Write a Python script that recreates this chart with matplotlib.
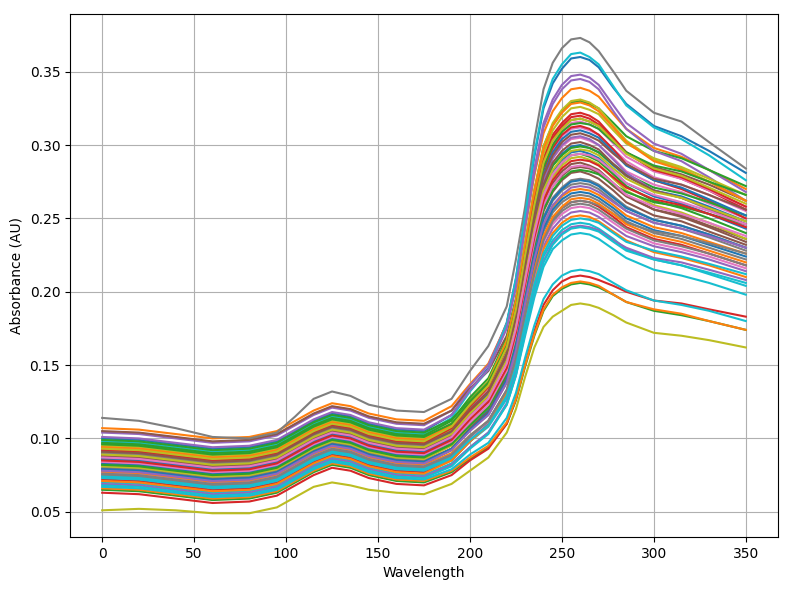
import matplotlib
matplotlib.use("Agg")
import matplotlib.pyplot as plt
import numpy as np

# Wavelength sample positions
wavelength = [0, 20, 40, 60, 80, 95, 105, 115, 125, 135, 145, 160, 175,
              190, 200, 210, 220, 225, 230, 235, 240, 245, 250, 255, 260,
              265, 270, 278, 285, 300, 315, 330, 350]

# Absorbance values in milli-AU (one row per spectrum)
spectra_1 = [
    [100, 99, 96, 93, 94, 98, 105, 112, 117, 115, 110, 106, 105, 116, 133, 148, 179, 209, 252, 292, 325, 342, 352, 359, 360, 358, 353, 339, 328, 313, 306, 296, 281],
    [107, 106, 103, 100, 101, 105, 112, 119, 124, 122, 117, 113, 112, 122, 137, 151, 178, 205, 243, 279, 308, 323, 332, 338, 339, 337, 333, 321, 311, 298, 292, 283, 270],
    [65, 64, 61, 58, 59, 63, 70, 77, 82, 80, 75, 71, 70, 77, 86, 94, 110, 126, 149, 170, 187, 197, 202, 205, 206, 205, 203, 198, 193, 187, 184, 180, 174],
    [63, 62, 59, 56, 57, 61, 68, 75, 80, 78, 73, 69, 68, 75, 85, 93, 110, 127, 151, 173, 191, 201, 207, 210, 211, 210, 208, 204, 200, 194, 192, 188, 183],
    [104, 103, 100, 97, 98, 102, 109, 116, 121, 119, 114, 110, 109, 119, 136, 150, 178, 206, 247, 284, 315, 331, 341, 347, 348, 346, 341, 327, 315, 301, 294, 283, 268],
    [105, 104, 101, 98, 99, 103, 110, 117, 122, 120, 115, 111, 110, 119, 134, 146, 170, 195, 230, 263, 289, 304, 312, 317, 318, 316, 313, 303, 295, 285, 280, 273, 262],
    [96, 95, 92, 89, 90, 94, 101, 108, 113, 111, 106, 102, 101, 110, 125, 137, 162, 187, 223, 256, 283, 297, 306, 311, 312, 310, 307, 297, 289, 278, 273, 266, 255],
    [114, 112, 107, 101, 100, 104, 115, 127, 132, 129, 123, 119, 118, 127, 146, 163, 190, 222, 258, 303, 338, 356, 366, 372, 373, 370, 364, 350, 337, 322, 316, 302, 284],
    [51, 52, 51, 49, 49, 53, 60, 67, 70, 68, 65, 63, 62, 69, 78, 87, 104, 120, 142, 162, 176, 183, 187, 191, 192, 191, 189, 184, 179, 172, 170, 167, 162],
    [98, 97, 94, 91, 92, 96, 103, 110, 115, 113, 108, 104, 103, 114, 132, 147, 178, 209, 252, 294, 327, 345, 355, 362, 363, 360, 355, 340, 327, 312, 304, 293, 276],
]
spectra_2 = [
    [90, 89, 86, 83, 84, 88, 95, 102, 107, 105, 100, 96, 95, 104, 118, 130, 153, 177, 211, 243, 268, 282, 290, 295, 296, 294, 291, 282, 274, 265, 260, 253, 243],
    [66, 65, 62, 59, 60, 64, 71, 78, 83, 81, 76, 72, 71, 78, 87, 95, 111, 127, 150, 171, 188, 198, 203, 206, 207, 206, 204, 198, 193, 188, 185, 180, 174],
    [97, 96, 93, 90, 91, 95, 102, 109, 114, 112, 107, 103, 102, 112, 128, 141, 168, 195, 233, 269, 299, 314, 323, 329, 330, 328, 325, 315, 306, 296, 291, 283, 272],
    [94, 93, 90, 87, 88, 92, 99, 106, 111, 109, 104, 100, 99, 109, 124, 137, 164, 190, 227, 263, 291, 307, 315, 321, 322, 320, 316, 305, 295, 283, 277, 269, 256],
    [101, 100, 97, 94, 95, 99, 106, 113, 118, 116, 111, 107, 106, 116, 133, 147, 175, 203, 244, 281, 312, 328, 338, 344, 345, 343, 338, 323, 311, 296, 289, 278, 262],
    [86, 85, 82, 79, 80, 84, 91, 98, 103, 101, 96, 92, 91, 100, 113, 125, 147, 170, 203, 233, 258, 272, 279, 284, 285, 284, 281, 272, 265, 256, 252, 245, 236],
    [92, 91, 88, 85, 86, 90, 97, 104, 109, 107, 102, 98, 97, 106, 121, 133, 157, 182, 217, 250, 276, 291, 299, 304, 305, 303, 300, 291, 282, 273, 268, 260, 250],
    [80, 79, 76, 73, 74, 78, 85, 92, 97, 95, 90, 86, 85, 93, 106, 116, 138, 159, 189, 218, 241, 254, 261, 265, 266, 265, 262, 255, 248, 240, 236, 230, 222],
    [95, 94, 91, 88, 89, 93, 100, 107, 112, 110, 105, 101, 100, 110, 126, 139, 167, 194, 233, 269, 299, 315, 324, 330, 331, 329, 325, 313, 303, 290, 284, 275, 262],
    [67, 66, 63, 60, 61, 65, 72, 79, 84, 82, 77, 73, 72, 79, 89, 97, 114, 131, 155, 177, 195, 205, 211, 214, 215, 214, 212, 206, 201, 194, 191, 187, 180],
]
spectra_3 = [
    [88, 87, 84, 81, 82, 86, 93, 100, 105, 103, 98, 94, 93, 102, 116, 129, 153, 178, 212, 245, 271, 286, 294, 299, 300, 298, 295, 286, 279, 269, 265, 258, 248],
    [84, 83, 80, 77, 78, 82, 89, 96, 101, 99, 94, 90, 89, 97, 110, 120, 142, 163, 193, 222, 245, 258, 265, 269, 270, 269, 266, 259, 252, 244, 240, 234, 226],
    [78, 77, 74, 71, 72, 76, 83, 90, 95, 93, 88, 84, 83, 92, 107, 119, 144, 169, 205, 238, 265, 279, 288, 293, 294, 292, 289, 280, 272, 262, 257, 250, 240],
    [89, 88, 85, 82, 83, 87, 94, 101, 106, 104, 99, 95, 94, 103, 119, 132, 157, 183, 220, 255, 283, 298, 307, 312, 313, 311, 307, 297, 287, 276, 270, 262, 250],
    [74, 73, 70, 67, 68, 72, 79, 86, 91, 89, 84, 80, 79, 87, 99, 110, 130, 151, 181, 208, 231, 243, 250, 254, 255, 254, 251, 244, 238, 231, 227, 222, 214],
    [82, 81, 78, 75, 76, 80, 87, 94, 99, 97, 92, 88, 87, 96, 110, 122, 145, 169, 203, 235, 260, 274, 282, 287, 288, 286, 283, 274, 266, 256, 251, 244, 234],
    [93, 92, 89, 86, 87, 91, 98, 105, 110, 108, 103, 99, 98, 107, 123, 135, 161, 187, 224, 258, 286, 301, 310, 315, 316, 314, 311, 301, 292, 282, 277, 269, 258],
    [85, 84, 81, 78, 79, 83, 90, 97, 102, 100, 95, 91, 90, 99, 111, 122, 145, 167, 198, 227, 251, 264, 271, 276, 277, 276, 273, 265, 258, 249, 245, 239, 230],
    [91, 90, 87, 84, 85, 89, 96, 103, 108, 106, 101, 97, 96, 106, 122, 135, 163, 190, 228, 265, 294, 310, 319, 325, 326, 324, 321, 310, 301, 291, 285, 277, 266],
    [70, 69, 66, 63, 64, 68, 75, 82, 87, 85, 80, 76, 75, 83, 94, 104, 123, 143, 170, 196, 217, 229, 235, 239, 240, 239, 236, 229, 223, 215, 211, 206, 198],
]
spectra_4 = [
    [83, 82, 79, 76, 77, 81, 88, 95, 100, 98, 93, 89, 88, 96, 109, 119, 141, 162, 192, 220, 243, 256, 263, 267, 268, 267, 264, 257, 250, 242, 238, 232, 224],
    [77, 76, 73, 70, 71, 75, 82, 89, 94, 92, 87, 83, 82, 90, 102, 112, 132, 152, 180, 207, 229, 240, 247, 251, 252, 251, 248, 241, 235, 227, 223, 218, 210],
    [99, 98, 95, 92, 93, 97, 104, 111, 116, 114, 109, 105, 104, 113, 126, 138, 161, 184, 216, 247, 272, 286, 293, 298, 299, 298, 295, 287, 280, 271, 267, 261, 252],
    [72, 71, 68, 65, 66, 70, 77, 84, 89, 87, 82, 78, 77, 85, 98, 109, 131, 153, 184, 213, 237, 249, 257, 261, 262, 261, 258, 251, 244, 236, 232, 226, 218],
    [87, 86, 83, 80, 81, 85, 92, 99, 104, 102, 97, 93, 92, 101, 116, 129, 154, 179, 215, 249, 276, 291, 300, 305, 306, 304, 300, 290, 281, 269, 264, 256, 244],
    [79, 78, 75, 72, 73, 77, 84, 91, 96, 94, 89, 85, 84, 93, 107, 118, 142, 165, 198, 229, 255, 268, 276, 281, 282, 280, 277, 269, 261, 252, 248, 241, 232],
    [76, 75, 72, 69, 70, 74, 81, 88, 93, 91, 86, 82, 81, 89, 101, 112, 133, 154, 183, 211, 234, 246, 253, 257, 258, 257, 254, 247, 241, 233, 229, 224, 216],
    [90, 89, 86, 83, 84, 88, 95, 102, 107, 105, 100, 96, 95, 103, 116, 126, 147, 168, 198, 226, 249, 262, 269, 273, 274, 273, 270, 262, 255, 247, 243, 237, 228],
    [81, 80, 77, 74, 75, 79, 86, 93, 98, 96, 91, 87, 86, 95, 109, 121, 146, 170, 205, 237, 264, 278, 286, 291, 292, 290, 287, 277, 269, 259, 254, 247, 236],
    [73, 72, 69, 66, 67, 71, 78, 85, 90, 88, 83, 79, 78, 86, 98, 108, 127, 147, 176, 202, 224, 235, 242, 246, 247, 246, 243, 236, 229, 222, 218, 212, 204],
]
spectra_5 = [
    [86, 85, 82, 79, 80, 84, 91, 98, 103, 101, 96, 92, 91, 100, 116, 129, 154, 180, 217, 252, 280, 295, 304, 309, 310, 308, 305, 295, 286, 276, 271, 263, 252],
    [94, 93, 90, 87, 88, 92, 99, 106, 111, 109, 104, 100, 99, 109, 125, 138, 166, 193, 231, 268, 297, 313, 322, 328, 329, 327, 323, 312, 302, 289, 283, 275, 262],
    [82, 81, 78, 75, 76, 80, 87, 94, 99, 97, 92, 88, 87, 96, 109, 121, 144, 167, 200, 231, 256, 269, 277, 282, 283, 282, 280, 273, 268, 261, 258, 253, 246],
    [92, 91, 88, 85, 86, 90, 97, 104, 109, 107, 102, 98, 97, 107, 122, 135, 162, 188, 225, 261, 289, 305, 313, 319, 320, 318, 314, 304, 295, 283, 278, 270, 258],
    [69, 68, 65, 62, 63, 67, 74, 81, 86, 84, 79, 75, 74, 82, 94, 104, 124, 144, 173, 200, 221, 233, 240, 244, 245, 244, 242, 235, 230, 223, 220, 215, 208],
    [88, 87, 84, 81, 82, 86, 93, 100, 105, 103, 98, 94, 93, 102, 117, 129, 154, 178, 213, 246, 273, 288, 296, 301, 302, 300, 297, 287, 279, 269, 264, 257, 246],
    [84, 83, 80, 77, 78, 82, 89, 96, 101, 99, 94, 90, 89, 98, 111, 123, 146, 170, 203, 234, 259, 272, 280, 285, 286, 285, 282, 274, 266, 258, 253, 247, 238],
    [75, 74, 71, 68, 69, 73, 80, 87, 92, 90, 85, 81, 80, 88, 101, 112, 133, 155, 185, 214, 237, 249, 257, 261, 262, 261, 259, 253, 247, 241, 238, 233, 226],
    [89, 88, 85, 82, 83, 87, 94, 101, 106, 104, 99, 95, 94, 103, 117, 129, 153, 177, 211, 243, 269, 283, 291, 296, 297, 296, 293, 284, 277, 268, 264, 257, 248],
    [68, 67, 64, 61, 62, 66, 73, 80, 85, 83, 78, 74, 73, 81, 93, 103, 123, 143, 172, 199, 220, 232, 239, 243, 244, 243, 241, 234, 228, 222, 218, 213, 206],
]
spectra_6 = [
    [79, 78, 75, 72, 73, 77, 84, 91, 96, 94, 89, 85, 84, 93, 106, 117, 140, 163, 195, 225, 250, 263, 270, 275, 276, 275, 272, 264, 257, 249, 245, 239, 230],
    [71, 70, 67, 64, 65, 69, 76, 83, 88, 86, 81, 77, 76, 85, 98, 109, 131, 153, 184, 214, 238, 251, 258, 263, 264, 263, 260, 253, 246, 238, 234, 228, 220],
    [96, 95, 92, 89, 90, 94, 101, 108, 113, 111, 106, 102, 101, 110, 125, 138, 163, 188, 224, 258, 285, 300, 309, 314, 315, 314, 311, 302, 295, 286, 282, 275, 266],
    [85, 84, 81, 78, 79, 83, 90, 97, 102, 100, 95, 91, 90, 99, 113, 125, 148, 172, 205, 237, 262, 276, 284, 289, 290, 289, 286, 278, 271, 263, 259, 253, 244],
    [78, 77, 74, 71, 72, 76, 83, 90, 95, 93, 88, 84, 83, 92, 105, 116, 138, 160, 192, 222, 246, 259, 266, 271, 272, 271, 268, 261, 255, 247, 243, 238, 230],
    [91, 90, 87, 84, 85, 89, 96, 103, 108, 106, 101, 97, 96, 105, 120, 132, 158, 183, 218, 252, 279, 293, 302, 307, 308, 306, 303, 294, 287, 277, 273, 266, 256],
    [87, 86, 83, 80, 81, 85, 92, 99, 104, 102, 97, 93, 92, 101, 115, 127, 151, 175, 208, 240, 266, 280, 288, 293, 294, 293, 290, 282, 274, 266, 261, 255, 246],
    [76, 75, 72, 69, 70, 74, 81, 88, 93, 91, 86, 82, 81, 89, 102, 112, 133, 154, 184, 212, 235, 248, 255, 259, 260, 259, 256, 249, 243, 235, 231, 226, 218],
    [93, 92, 89, 86, 87, 91, 98, 105, 110, 108, 103, 99, 98, 108, 123, 136, 162, 188, 225, 259, 288, 303, 311, 317, 318, 316, 313, 303, 294, 284, 279, 271, 260],
    [74, 73, 70, 67, 68, 72, 79, 86, 91, 89, 84, 80, 79, 87, 99, 109, 129, 149, 178, 205, 226, 238, 245, 249, 250, 249, 247, 240, 234, 228, 224, 219, 212],
]

fig, ax = plt.subplots(figsize=(7.9, 5.9), dpi=100)
x = np.array(wavelength)
for group in (spectra_1, spectra_2, spectra_3, spectra_4, spectra_5, spectra_6):
    for row in group:
        assert len(row) == len(wavelength)
        ax.plot(x, np.array(row) / 1000.0)

ax.set_xlabel("Wavelength")
ax.set_ylabel("Absorbance (AU)")
ax.grid(True)
fig.subplots_adjust(left=0.0886, right=0.9848, top=0.976, bottom=0.0898)
fig.savefig("out.png", dpi=100)
